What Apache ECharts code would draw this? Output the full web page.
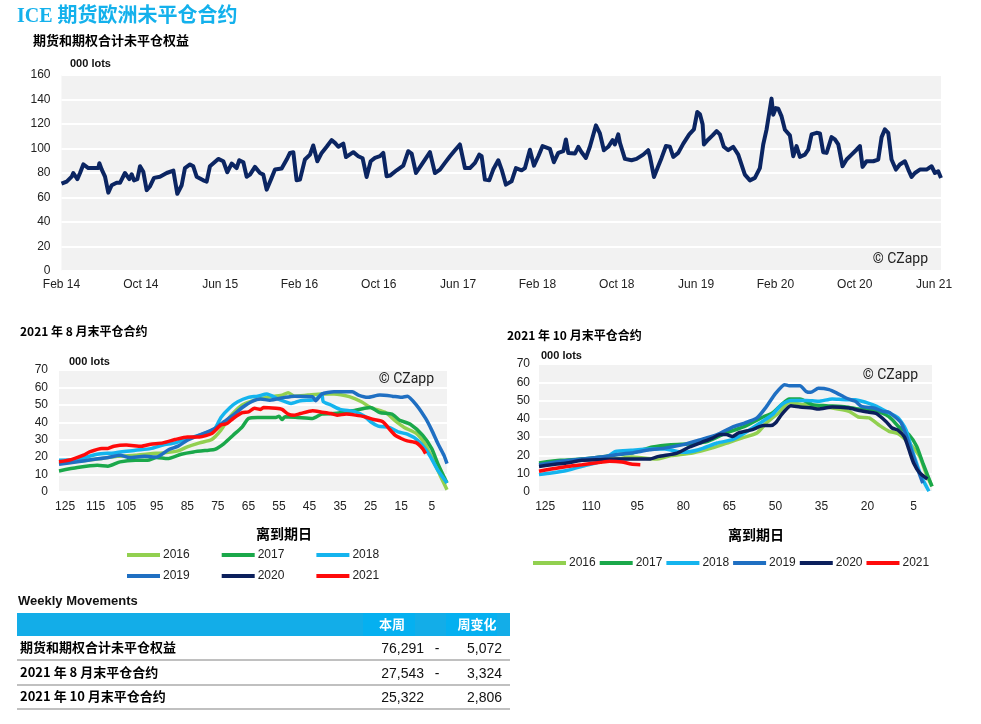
<!DOCTYPE html>
<html><head><meta charset="utf-8">
<script src="https://cdn.jsdelivr.net/npm/echarts@6/dist/echarts.min.js"></script>
<style>html,body{margin:0;padding:0;background:#fff;}#c{width:981px;height:724px;}</style>
</head><body><div id="c"></div>
<script>
// ---- Top chart: months since Feb 2014, total open interest (000 lots)
const topMonths = [0.0,0.52,1.03,1.19,1.60,1.87,2.20,2.71,3.71,3.82,4.05,4.39,4.72,5.06,5.56,5.90,6.40,6.57,6.84,7.08,7.31,7.65,7.92,8.25,8.59,8.92,9.33,9.93,10.61,11.28,11.68,12.12,12.45,12.96,13.29,13.63,14.30,14.64,14.97,15.81,16.32,16.72,17.16,17.66,17.93,18.34,18.67,19.01,19.51,20.02,20.35,20.69,21.19,21.53,22.20,22.71,23.04,23.38,23.71,24.05,24.55,25.06,25.39,25.80,26.24,26.74,27.24,27.58,27.92,28.42,28.69,29.43,29.93,30.37,30.77,31.18,31.61,32.12,32.45,32.79,33.13,33.80,34.47,34.97,35.31,35.75,36.32,37.16,37.66,38.17,38.67,39.18,39.68,40.18,40.69,41.19,41.70,42.13,42.37,42.70,43.14,43.54,44.05,44.39,44.82,45.39,45.83,46.40,46.74,47.24,47.65,48.09,48.52,49.26,49.66,50.10,50.61,50.87,51.11,51.78,52.12,52.45,52.89,53.29,53.90,54.30,54.70,55.14,55.58,55.81,56.15,56.32,56.82,57.49,57.99,58.67,59.17,59.34,59.75,60.18,60.52,60.96,61.36,61.70,62.20,62.71,63.31,63.78,64.12,64.39,64.66,64.79,65.23,65.66,66.07,66.40,66.80,67.24,67.74,68.25,68.75,68.92,69.43,69.93,70.43,70.77,71.11,71.38,71.61,71.78,72.05,72.29,72.62,72.96,73.46,73.80,74.13,74.47,74.97,75.31,75.65,76.15,76.49,76.82,77.16,77.66,78.00,78.34,78.77,79.18,79.68,80.18,80.52,80.79,81.19,81.87,82.37,82.71,83.04,83.38,83.71,84.15,84.55,85.06,85.40,85.73,86.07,86.57,87.24,87.75,88.09,88.42,88.70];
const topValues = [71.3,73,77,80,75,80,87,84,84,88,83,77,64,70,72,72,80,81,75,79,74,75,85.5,81,66,69,76,77,80,82,63,70,84,87,85.5,77,74,73,85.5,91.5,89.6,80.6,87.7,84,90.4,88.8,77,78.7,85,80,78.7,66.4,76,82.8,83.6,91,96.4,97,74,74.6,91,95,102.5,89.6,96.4,101.4,106.8,104.6,101.4,104,93,97,93.7,92,76.8,89.6,92.3,93.7,96.4,77.3,77.9,82.2,86,97.8,95.9,80,86.9,97,80,82.8,88.3,93.7,98.6,103.3,84,84,88.3,95,93.7,74.6,74,82.8,90.4,82.8,70.5,73.2,84,82.2,84,99,86,93.7,102,99.7,88.8,96.4,97.8,107.4,96.4,95.9,101.4,97,92.3,101.4,118.9,112.3,98.6,101.4,106.8,103.3,111.5,104.6,91.5,90.4,91.5,95,98.6,93.7,76.8,85.5,92.3,102,101.4,93.2,96.4,104,111.5,115.6,129.8,127.9,119.7,103.3,107.4,110.7,114.2,111.5,101.4,98.6,101.4,95,82.8,78.7,74,76,84,103.3,115.6,129.2,140.7,127.6,133,132.5,126.2,115.3,110.7,93.7,102,93.2,95,99,111.5,112.8,112.3,97,96.4,109.3,107.4,103.3,85.5,91,95,99,102,85,89.6,89.6,91,109.3,115.6,112.8,91,82.8,86.9,89.6,82.8,76.8,80,82.8,82.8,85.5,80,81.4,76];
const topTickMonths = [0,8,16,24,32,40,48,56,64,72,80,88];
const monthNames = ['Jan','Feb','Mar','Apr','May','Jun','Jul','Aug','Sep','Oct','Nov','Dec'];

// ---- August 2021 contract: [days to expiry, 000 lots]
const aug2016 = [[127,16.7],[120,17.8],[113,19.2],[108,20.5],[102,21.1],[97,22],[93,22.4],[88,23.6],[85,25.9],[81,28.2],[77,30.1],[74,35.5],[71,43.2],[67,49.9],[63,52.7],[59,54.3],[54,55.6],[52,57],[50,55],[45.5,55.6],[41,56.2],[37,56.2],[32,54.7],[28,51.8],[25,48.5],[20,45.5],[17,40.9],[14,37],[10,33.6],[7,26.9],[4,16.3],[2,8.6],[0,1.3]];
const aug2017 = [[127,12.1],[121,14],[114.5,15.3],[111,14.8],[107,17.3],[102,18.2],[98,18.2],[95,19.8],[91.5,19.2],[87,21.7],[83,23],[78,24],[76,24.4],[73,27.8],[70,32.6],[67,37.4],[65,42.2],[62,42.8],[56,42.8],[55,43.5],[54,41.6],[53,43.2],[49,42.8],[44,42.2],[41,44.7],[37,45],[31,46.6],[27,48],[25,48.5],[22,45.5],[18,44.7],[15.5,41.2],[12,38.9],[8,32.6],[5,24.9],[3,16.3],[0,5.2]];
const aug2018 = [[127,18.2],[121,18.6],[114.5,21.7],[109,22.4],[102,24],[97,24.9],[93,26.9],[89,28.2],[85,30.7],[81,32.6],[76,36.4],[74,42.8],[71,48.5],[68.5,51.8],[65,54.3],[62,55],[59,56.2],[55,53.1],[51,50.8],[48,52.4],[43,53.1],[41,56.2],[40.5,51.8],[38,49.9],[35,47.4],[30,46],[27,43.5],[25,40.3],[22.5,37.8],[19,37],[16,34.5],[13,33.2],[9.6,29.7],[6,22],[3,12.5],[0,5.2]];
const aug2019 = [[127,15.9],[121,17.3],[116,18.6],[111,19.8],[107,21.1],[104,19.8],[99,20.5],[95,20.1],[91,24.4],[88,26.3],[85,29.7],[81,32.6],[76,36.4],[73,40.3],[70,44.1],[67,48.5],[64,51.8],[61,53.3],[58,52.7],[53,54.3],[50,55],[44,54.7],[43,52.4],[41,56.2],[37,57.5],[31,57.5],[29,55.6],[26,54.3],[22,55.6],[18,55],[15,54.3],[13,55],[10,49.9],[7,42.2],[5,35.5],[3,27.8],[1,21.1],[0,16.3]];
const aug2020 = [];
const aug2021 = [[127,17.3],[123,18.6],[119,21.1],[117,23],[113,25],[111,25],[109,26.3],[105,26.9],[100,26.3],[97,27.4],[93,28.2],[89,30.1],[85,31.6],[81,31.6],[77,33.6],[74,38.4],[72,39.3],[70,42.2],[67,45.5],[65,46],[63,48],[61,47.4],[60,48.5],[56,48],[54,47.4],[52,44.7],[50,44.1],[48,45],[44,46.6],[41,45.8],[38,45],[36,44.1],[33,44.7],[30,44.1],[27,43.2],[24,41.6],[21,40.3],[19,36.4],[17,32.6],[15,30.7],[13,29.3],[10,28.2],[8,24.9],[7,22]];

// ---- October 2021 contract
const oct2016 = [[127,15.5],[120,16.2],[113,17.7],[107,18],[102,18],[97,19.1],[89,18],[84,19.9],[77,21.3],[70.5,24.1],[65,27.2],[61,29.5],[56,32.3],[53,37.7],[49,43.2],[45.5,49],[41,47.8],[37,46.8],[31.5,45.9],[26,44.1],[23,41],[19.5,40.5],[16,36.3],[13,33.2],[10,31.9],[6.5,26.8],[3,19.5],[1,10.4],[-1,3.1]];
const oct2017 = [[127,15.9],[120,17.3],[113,18],[107,19.1],[102,20.4],[97,21.3],[90,24.6],[84,25.9],[77,26.4],[72,27.7],[66,32.3],[60,35.9],[54,41],[51,43.2],[48,47.8],[45.5,50.9],[42,50.9],[38,47.8],[33.5,47.2],[27,46.5],[23,45.4],[18,44.7],[14,42.3],[12,39.6],[10,35.9],[6.5,31.4],[4,25],[2,15.9],[-1,3.1]];
const oct2018 = [[127,9.5],[123,10.4],[118,11.8],[113,14],[107,16.8],[102,22.2],[97,22.8],[91,23.5],[86,23.5],[80,21.7],[75,23.1],[69,26.8],[64,28.6],[60,32.3],[55,37.7],[51,42.3],[48,47.8],[45,50.1],[40,50.1],[36,49.6],[31.5,50.9],[27,50.5],[24,50.5],[20.5,49],[17,46.8],[13,43.2],[10,40.5],[7.5,34.1],[5.5,23.1],[2.5,8.6],[0,0.4]];
const oct2019 = [[127,14.9],[120,16.8],[113,18],[107,19.1],[102,20.4],[97,21.3],[91,23.1],[86,24],[80,25.9],[75,28.3],[69,31.4],[64,35.5],[60,37.7],[56,40.5],[53,46.5],[50,53.8],[47,58.7],[45.5,58.1],[42,58.1],[40,55],[38.5,54.5],[36,56.7],[32.5,56],[30,54.1],[27,51.4],[24,49.6],[22,46.8],[18,45.9],[15,44.1],[13,43.6],[11,41],[9,37.7],[6.5,26.8],[4,14],[2,4.9]];
const oct2020 = [[127,14],[123,14.9],[118,15.9],[113,17.3],[107,17.7],[102,18],[97,18],[91,18],[88,19.5],[82,21.3],[78,24.6],[74,27.2],[70.5,29.5],[68,31.4],[66,31.4],[64,30.4],[62,32.3],[57.5,34.1],[54,36.3],[51.5,36.3],[50,37.7],[48,42.3],[45,47.2],[42,46.5],[38,45.9],[36,45.4],[31.5,46.5],[26,45.9],[23,44.7],[19.5,43.6],[17,42.8],[14,38.6],[12,35],[10,33.7],[8,30.1],[6.5,23.1],[5,15.9],[3,10.4],[0.5,7.1]];
const oct2021 = [[127,11.3],[123,12.6],[118,14],[113,14.9],[107,16.2],[104,16.8],[100,16.4],[97,15.3],[94,14.9]];

const years = ['2016','2017','2018','2019','2020','2021'];
const yearColors = ['#92d050','#1aa84a','#14b4ee','#1f6fc2','#0b1f5c','#ff0a0a'];
const augTicks = [125,115,105,95,85,75,65,55,45,35,25,15,5];
const octTicks = [125,110,95,80,65,50,35,20,5];

// ---- Weekly movements table
const tableRows = ['期货和期权合计未平仓权益','2021 年 8 月末平仓合约','2021 年 10 月末平仓合约'];
const tableThisWeek = ['76,291','27,543','25,322'];
const tableSign = ['-','-',''];
const tableChange = ['5,072','3,324','2,806'];

const FONT = '"Liberation Sans", Arial, "Noto Sans CJK SC", sans-serif';
const chart = echarts.init(document.getElementById('c'), null, {renderer:'canvas'});

function smallSeries(list, gridIdx, width) {
  return list.map((d, i) => ({
    name: years[i], type: 'line', xAxisIndex: gridIdx, yAxisIndex: gridIdx,
    data: d, showSymbol: false, symbol: 'none', smooth: 0.2,
    lineStyle: {color: yearColors[i], width: width}, itemStyle: {color: yearColors[i]},
    z: i === 5 ? 10 : 3 + i
  }));
}

const gridBg = '#f2f2f2';
const axisLabel = {color: '#222', fontSize: 12, fontFamily: FONT};

const graphics = [
  {type:'text', left:17, top:7, style:{text:'ICE 期货欧洲未平仓合约', fill:'#14b1ec', font:'bold 20px "Liberation Serif", "Noto Sans CJK SC", serif'}},
  {type:'text', left:33, top:34, style:{text:'期货和期权合计未平仓权益', fill:'#000', font:'bold 13px "Noto Sans CJK SC", sans-serif'}},
  {type:'text', left:70, top:58, style:{text:'000 lots', fill:'#111', font:'bold 11px '+FONT}},
  {type:'text', right:981-928, top:252, style:{text:'© CZapp', fill:'#222', font:'14px Roboto, sans-serif'}},
  {type:'text', left:20, top:325, style:{text:'2021 年 8 月末平仓合约', fill:'#000', font:'bold 12px "Noto Sans CJK SC", sans-serif'}},
  {type:'text', left:69, top:356, style:{text:'000 lots', fill:'#111', font:'bold 11px '+FONT}},
  {type:'text', right:981-434, top:372, style:{text:'© CZapp', fill:'#222', font:'14px Roboto, sans-serif'}},
  {type:'text', left:256, top:527, style:{text:'离到期日', fill:'#000', font:'bold 14px "Noto Sans CJK SC", sans-serif', textAlign:'center', textVerticalAlign:'middle'}},
  {type:'text', left:507, top:329, style:{text:'2021 年 10 月末平仓合约', fill:'#000', font:'bold 12px "Noto Sans CJK SC", sans-serif'}},
  {type:'text', left:541, top:350, style:{text:'000 lots', fill:'#111', font:'bold 11px '+FONT}},
  {type:'text', right:981-918, top:368, style:{text:'© CZapp', fill:'#222', font:'14px Roboto, sans-serif'}},
  {type:'text', left:728, top:528, style:{text:'离到期日', fill:'#000', font:'bold 14px "Noto Sans CJK SC", sans-serif', textAlign:'center', textVerticalAlign:'middle'}},
  // table
  {type:'text', left:18, top:595, style:{text:'Weekly Movements', fill:'#111', font:'bold 13px '+FONT}},
  {type:'rect', shape:{x:17, y:613, width:493, height:23}, style:{fill:'#13ade8'}},
  {type:'rect', shape:{x:363, y:613, width:52, height:23}, style:{fill:'#05b0f0'}},
  {type:'rect', shape:{x:446, y:613, width:51, height:23}, style:{fill:'#05b0f0'}},
  {type:'text', x:392, y:624.5, style:{text:'本周', fill:'#fff', font:'bold 13px "Noto Sans CJK SC", sans-serif', textAlign:'center', textVerticalAlign:'middle'}},
  {type:'text', x:477, y:624.5, style:{text:'周变化', fill:'#fff', font:'bold 13px "Noto Sans CJK SC", sans-serif', textAlign:'center', textVerticalAlign:'middle'}}
];
const rowY = [647, 672, 696];
const lineY = [660, 685, 709];
for (let i = 0; i < tableRows.length; i++) {
  graphics.push({type:'text', x:20, y:rowY[i], style:{text:tableRows[i], fill:'#000', font:'bold 13px "Noto Sans CJK SC", sans-serif', textVerticalAlign:'middle'}});
  graphics.push({type:'text', x:424, y:rowY[i]+2, style:{text:tableThisWeek[i], fill:'#111', font:'14px '+FONT, textAlign:'right', textVerticalAlign:'middle'}});
  graphics.push({type:'text', x:437, y:rowY[i]+2, style:{text:tableSign[i], fill:'#111', font:'14px '+FONT, textAlign:'center', textVerticalAlign:'middle'}});
  graphics.push({type:'text', x:502, y:rowY[i]+2, style:{text:tableChange[i], fill:'#111', font:'14px '+FONT, textAlign:'right', textVerticalAlign:'middle'}});
  graphics.push({type:'line', shape:{x1:17, y1:lineY[i], x2:510, y2:lineY[i]}, style:{stroke:'#c0c0c0', lineWidth:2}});
}

const legendBase = {icon:'rect', itemWidth:33, itemHeight:4, textStyle:{color:'#222', fontSize:12, fontFamily:FONT, padding:[0,0,0,-2]}, selectedMode:false, padding:0};

const option = {
  animation: false,
  backgroundColor: '#fff',
  grid: [
    {left:61.5, top:75, width:879.5, height:196, show:true, backgroundColor:gridBg, borderWidth:0},
    {left:59, top:370, width:388, height:122, show:true, backgroundColor:gridBg, borderWidth:0},
    {left:539, top:364, width:393, height:128, show:true, backgroundColor:gridBg, borderWidth:0}
  ],
  xAxis: [
    {type:'value', gridIndex:0, min:0, max:88.7,
      axisLine:{show:false}, axisTick:{show:false}, splitLine:{show:false},
      axisLabel:Object.assign({}, axisLabel, {margin:8, customValues: topTickMonths,
        formatter: v => { const t = 1 + Math.round(v); return monthNames[t % 12] + ' ' + String(14 + Math.floor(t / 12)); }})},
    {type:'value', gridIndex:1, min:0, max:127, inverse:true,
      axisLine:{show:false}, axisTick:{show:false}, splitLine:{show:false},
      axisLabel:Object.assign({}, axisLabel, {margin:9, customValues: augTicks})},
    {type:'value', gridIndex:2, min:-1, max:127, inverse:true,
      axisLine:{show:false}, axisTick:{show:false}, splitLine:{show:false},
      axisLabel:Object.assign({}, axisLabel, {margin:9, customValues: octTicks})}
  ],
  yAxis: [
    {type:'value', gridIndex:0, min:0, max:160, interval:20,
      axisLine:{show:false}, axisTick:{show:false},
      splitLine:{lineStyle:{color:'#fff', width:2}}, axisLabel:Object.assign({}, axisLabel, {margin:11})},
    {type:'value', gridIndex:1, min:0, max:70, interval:10,
      axisLine:{show:false}, axisTick:{show:false},
      splitLine:{lineStyle:{color:'#fff', width:2}}, axisLabel:Object.assign({}, axisLabel, {margin:11})},
    {type:'value', gridIndex:2, min:0, max:70, interval:10,
      axisLine:{show:false}, axisTick:{show:false},
      splitLine:{lineStyle:{color:'#fff', width:2}}, axisLabel:Object.assign({}, axisLabel, {margin:9})}
  ],
  legend: [
    Object.assign({}, legendBase, {data:['2016','2017','2018'], left:127, top:549, itemGap:32}),
    Object.assign({}, legendBase, {data:['2019','2020','2021'], left:127, top:570, itemGap:32}),
    Object.assign({}, legendBase, {data:years, left:533, top:557, itemGap:4})
  ],
  graphic: graphics,
  series: [
    {name:'OI', type:'line', xAxisIndex:0, yAxisIndex:0, showSymbol:false, symbol:'none',
      data: topMonths.map((m, i) => [m, topValues[i]]),
      lineStyle:{color:'#0b2562', width:4, join:'round'}}
  ].concat(
    smallSeries([aug2016, aug2017, aug2018, aug2019, aug2020, aug2021], 1, 3.5),
    smallSeries([oct2016, oct2017, oct2018, oct2019, oct2020, oct2021], 2, 3.5)
  )
};
chart.setOption(option);
</script>
</body></html>
